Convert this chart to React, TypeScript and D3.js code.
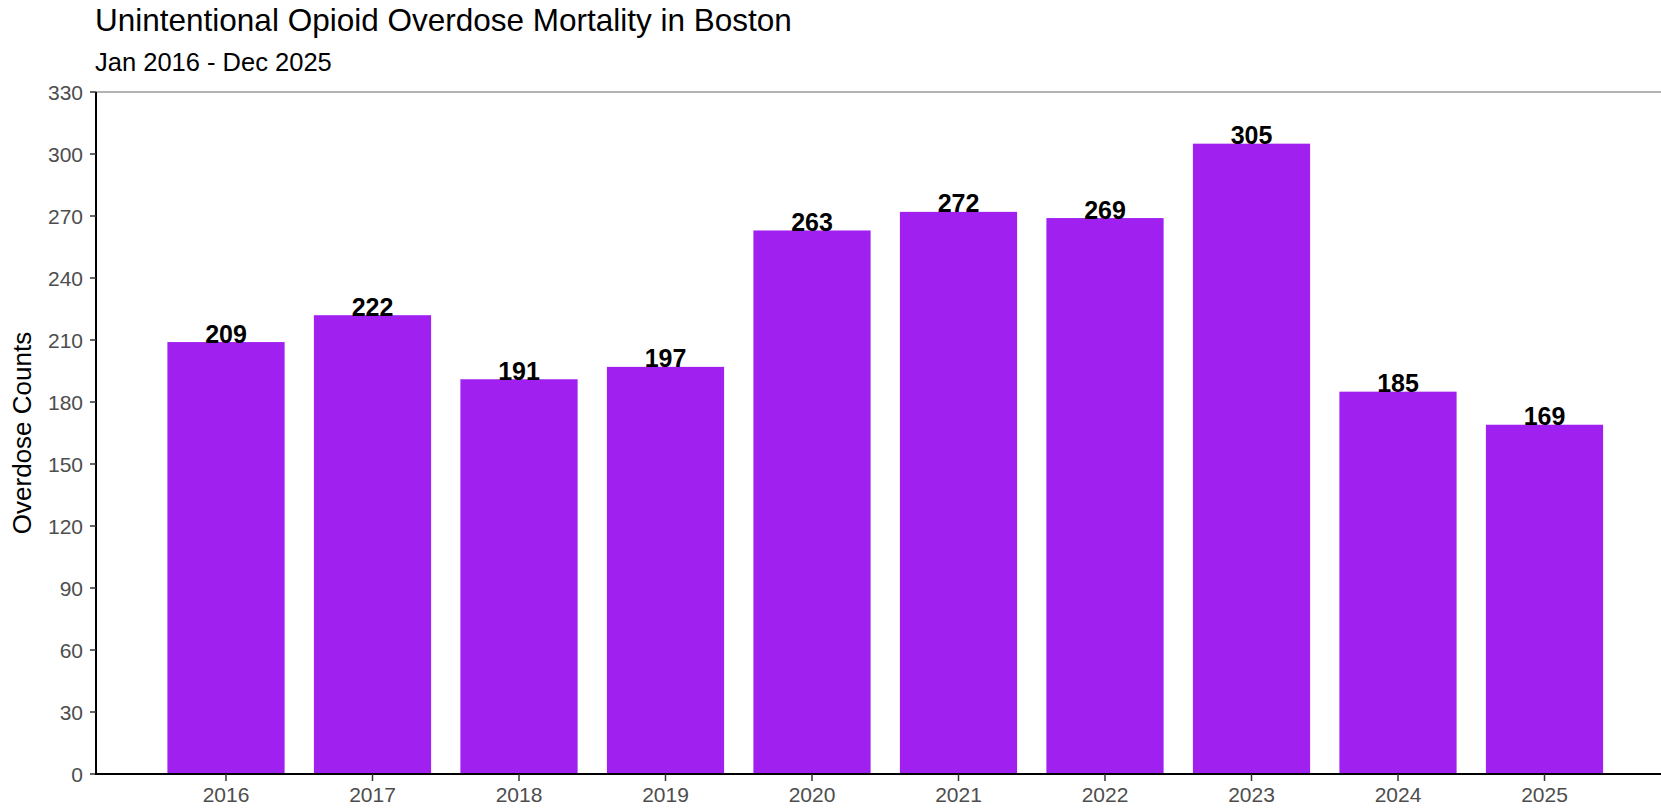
import React, { useEffect, useRef } from "react";
import * as d3 from "d3";

const years = ["2016", "2017", "2018", "2019", "2020", "2021", "2022", "2023", "2024", "2025"];
const counts = [209, 222, 191, 197, 263, 272, 269, 305, 185, 169];
const yTicks = [0, 30, 60, 90, 120, 150, 180, 210, 240, 270, 300, 330];
const title = "Unintentional Opioid Overdose Mortality in Boston";
const subtitle = "Jan 2016 - Dec 2025";
const yLabel = "Overdose Counts";

const W = 1661;
const H = 808;
const FONT = "'Liberation Sans', Arial, Helvetica, sans-serif";

export default function App() {
  const ref = useRef<SVGSVGElement>(null);

  useEffect(() => {
    const svg = d3.select(ref.current);
    svg.selectAll("*").remove();

    const left = 96;
    const top = 92;
    const bottom = 774;

    const x = d3
      .scaleBand<string>()
      .domain(years)
      .range([152.75, 1617.75])
      .paddingInner(0.2)
      .paddingOuter(0.1);
    const y = d3.scaleLinear().domain([0, 330]).range([bottom, top]);

    // top border
    svg
      .append("line")
      .attr("x1", left)
      .attr("x2", W)
      .attr("y1", top)
      .attr("y2", top)
      .attr("stroke", "#9a9a9a")
      .attr("stroke-width", 1.5);

    // bars
    svg
      .append("g")
      .selectAll("rect")
      .data(years)
      .join("rect")
      .attr("x", (d) => x(d)!)
      .attr("width", x.bandwidth())
      .attr("y", (_, i) => y(counts[i]))
      .attr("height", (_, i) => bottom - y(counts[i]))
      .attr("fill", "#A020F0");

    // bar labels
    svg
      .append("g")
      .selectAll("text")
      .data(years)
      .join("text")
      .attr("x", (d) => x(d)! + x.bandwidth() / 2)
      .attr("y", (_, i) => y(counts[i]) + 0.5)
      .attr("text-anchor", "middle")
      .attr("font-family", FONT)
      .attr("font-weight", "bold")
      .attr("font-size", 25)
      .attr("fill", "#000")
      .text((_, i) => String(counts[i]));

    // y axis
    const ya = svg.append("g");
    ya.append("line")
      .attr("x1", left)
      .attr("x2", left)
      .attr("y1", top)
      .attr("y2", bottom + 1)
      .attr("stroke", "#000")
      .attr("stroke-width", 2);
    const yt = ya.selectAll("g.t").data(yTicks).join("g").attr("class", "t");
    yt.append("line")
      .attr("x1", left - 6)
      .attr("x2", left)
      .attr("y1", (d) => y(d))
      .attr("y2", (d) => y(d))
      .attr("stroke", "#333")
      .attr("stroke-width", 1.5);
    yt.append("text")
      .attr("x", left - 13)
      .attr("y", (d) => y(d))
      .attr("dy", "0.36em")
      .attr("text-anchor", "end")
      .attr("font-family", FONT)
      .attr("font-size", 21)
      .attr("fill", "#4d4d4d")
      .text((d) => String(d));

    // x axis
    const xa = svg.append("g");
    xa.append("line")
      .attr("x1", left - 1)
      .attr("x2", W)
      .attr("y1", bottom)
      .attr("y2", bottom)
      .attr("stroke", "#000")
      .attr("stroke-width", 2);
    const xt = xa.selectAll("g.t").data(years).join("g").attr("class", "t");
    xt.append("line")
      .attr("x1", (d) => x(d)! + x.bandwidth() / 2)
      .attr("x2", (d) => x(d)! + x.bandwidth() / 2)
      .attr("y1", bottom)
      .attr("y2", bottom + 7)
      .attr("stroke", "#333")
      .attr("stroke-width", 1.5);
    xt.append("text")
      .attr("x", (d) => x(d)! + x.bandwidth() / 2)
      .attr("y", 801.5)
      .attr("text-anchor", "middle")
      .attr("font-family", FONT)
      .attr("font-size", 21)
      .attr("fill", "#4d4d4d")
      .text((d) => d);

    // y label
    svg
      .append("text")
      .attr("transform", `translate(31, ${(top + bottom) / 2}) rotate(-90)`)
      .attr("text-anchor", "middle")
      .attr("font-family", FONT)
      .attr("font-size", 26)
      .attr("fill", "#000")
      .text(yLabel);

    // titles
    svg
      .append("text")
      .attr("x", 95)
      .attr("y", 31)
      .attr("font-family", FONT)
      .attr("font-size", 31.5)
      .attr("fill", "#000")
      .text(title);
    svg
      .append("text")
      .attr("x", 95)
      .attr("y", 71)
      .attr("font-family", FONT)
      .attr("font-size", 25.5)
      .attr("fill", "#000")
      .text(subtitle);
  }, []);

  return (
    <svg
      ref={ref}
      width={W}
      height={H}
      style={{ position: "absolute", left: 0, top: 0, background: "#fff" }}
    />
  );
}
